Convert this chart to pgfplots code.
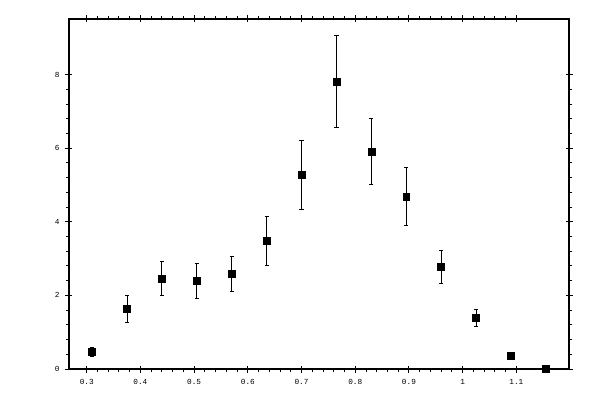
\documentclass[border=0pt]{standalone}
\usepackage{pgfplots}
\pgfplotsset{compat=1.18}
\usepackage{fontspec}
\setmainfont{Liberation Mono}
\begin{document}
\begin{tikzpicture}[x=1pt,y=1pt]
% 1px = 0.75pt, picture is 600x400 px
\path[use as bounding box] (-51.75pt,-23.25pt) rectangle (398.25pt,276.75pt);
\begin{axis}[
  at={(0,0)}, anchor=south west,
  scale only axis,
  width=375pt, height=262.5pt,
  xmin=0.267, xmax=1.198,
  ymin=0, ymax=9.51,
  clip=false,
  axis line style={line width=0.8pt},
  xtick={0.3,0.4,...,1.11},
  xticklabels={0.3,0.4,0.5,0.6,0.7,0.8,0.9,1,1.1},
  ytick={0,2,4,6,8},
  minor x tick num=4,
  minor y tick num=4,
  tick align=outside,
  tick pos=both,
  major tick length=3pt,
  minor tick length=2.2pt,
  every tick/.style={line width=0.7pt, black},
  extra x ticks={0.3,0.4,...,1.11},
  extra x tick labels={},
  extra y ticks={0,2,4,6,8},
  extra y tick labels={},
  extra tick style={tick align=inside, major tick length=2.2pt},
  tick label style={font=\fontsize{5.8}{6}\selectfont},
  /pgf/number format/assume math mode=true,
  xticklabel style={yshift=-1.5pt},
  yticklabel style={xshift=-0.5pt},
]
\addplot[
  only marks, mark=square*, mark size=2.6pt, black,
  error bars/.cd, y dir=both, y explicit,
  error bar style={line width=0.75pt, black},
  error mark options={rotate=90, line width=0.75pt, mark size=1.6pt, black},
] table[x=x, y=y, y error=e] {
x      y     e
0.310  0.46  0.13
0.375  1.63  0.355
0.440  2.45  0.46
0.505  2.39  0.48
0.570  2.58  0.48
0.635  3.48  0.655
0.700  5.28  0.935
0.765  7.81  1.25
0.830  5.90  0.895
0.895  4.68  0.79
0.960  2.78  0.45
1.025  1.39  0.23
1.090  0.35  0.0
1.155  0.00  0.0
};
\end{axis}
\end{tikzpicture}
\end{document}
